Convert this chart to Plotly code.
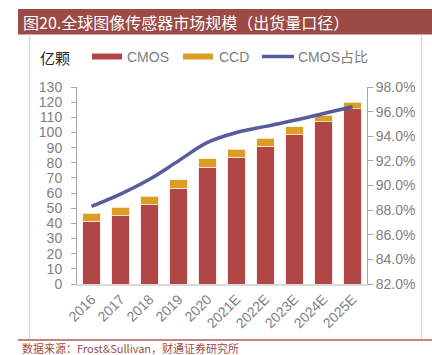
import plotly.graph_objects as go

years = ["2016", "2017", "2018", "2019", "2020", "2021E", "2022E", "2023E", "2024E", "2025E"]
cmos = [41.3, 45.1, 52.3, 63.2, 77.0, 83.6, 90.8, 98.6, 107.2, 115.7]
ccd = [5.5, 5.7, 5.7, 5.5, 5.5, 5.4, 5.3, 5.3, 4.3, 4.4]
cmos_share = [88.3, 89.3, 90.5, 92.0, 93.5, 94.3, 94.8, 95.3, 95.85, 96.4]

C_CMOS = "#B04645"
C_CCD = "#DB9E24"
C_LINE = "#565C9C"
GRAY = "#808080"

fig = go.Figure()
fig.add_trace(go.Bar(x=years, y=cmos, name="CMOS", marker=dict(color=C_CMOS, line=dict(color="rgba(255,230,230,0.8)", width=1))))
fig.add_trace(go.Bar(x=years, y=ccd, name="CCD", marker=dict(color=C_CCD, line=dict(color="rgba(255,240,220,0.8)", width=1))))
fig.add_trace(go.Scatter(x=years, y=cmos_share, name="CMOS占比", yaxis="y2", mode="lines",
                         line=dict(color=C_LINE, width=3.5, shape="spline")))

# plot area: x 77..367, y 87..284 (pixels)
L, R, T, B = 77, 367, 87, 284
W, H = R - L, B - T
def px(x): return (x - L) / W
def py(y): return (B - y) / H

shapes = [
    dict(type="rect", xref="paper", yref="paper", x0=px(18), x1=px(433), y0=py(34.5), y1=py(9),
         fillcolor="#9C4A46", line=dict(width=0), layer="below"),
    dict(type="line", xref="paper", yref="paper", x0=px(29.5), x1=px(29.5), y0=py(34.5), y1=py(340),
         line=dict(color="#D9D9D9", width=1.5)),
    dict(type="line", xref="paper", yref="paper", x0=px(421.5), x1=px(421.5), y0=py(34.5), y1=py(340),
         line=dict(color="#D9D9D9", width=1.5)),
    dict(type="line", xref="paper", yref="paper", x0=px(18), x1=px(433), y0=py(340), y1=py(340),
         line=dict(color="#B05A55", width=1.5)),
    dict(type="rect", xref="paper", yref="paper", x0=px(92), x1=px(122), y0=py(59.5), y1=py(53.5),
         fillcolor=C_CMOS, line=dict(width=0)),
    dict(type="rect", xref="paper", yref="paper", x0=px(183), x1=px(213), y0=py(59.5), y1=py(53.5),
         fillcolor=C_CCD, line=dict(width=0)),
    dict(type="line", xref="paper", yref="paper", x0=px(262), x1=px(294), y0=py(56.5), y1=py(56.5),
         line=dict(color=C_LINE, width=3.5)),
]

ann_font = dict(family="Liberation Sans, Noto Sans CJK SC", size=14, color=GRAY)
annotations = [
    dict(text="图20.全球图像传感器市场规模（出货量口径）", xref="paper", yref="paper", x=px(21), y=py(22),
         xanchor="left", yanchor="middle", showarrow=False,
         font=dict(family="Noto Sans CJK SC", size=16, color="white")),
    dict(text="亿颗", xref="paper", yref="paper", x=px(38), y=py(57), xanchor="left", yanchor="middle",
         showarrow=False, font=dict(family="Noto Sans CJK SC", size=15, color="#262626")),
    dict(text="CMOS", xref="paper", yref="paper", x=px(125), y=py(57), xanchor="left", yanchor="middle",
         showarrow=False, font=ann_font),
    dict(text="CCD", xref="paper", yref="paper", x=px(217), y=py(57), xanchor="left", yanchor="middle",
         showarrow=False, font=ann_font),
    dict(text="CMOS占比", xref="paper", yref="paper", x=px(296), y=py(57), xanchor="left", yanchor="middle",
         showarrow=False, font=ann_font),
    dict(text="数据来源：Frost&Sullivan，财通证券研究所", xref="paper", yref="paper", x=px(20), y=py(348),
         xanchor="left", yanchor="middle", showarrow=False,
         font=dict(family="Noto Sans CJK SC", size=11, color="#A04A46")),
]

fig.update_layout(
    width=432, height=355,
    margin=dict(l=L, r=432 - R, t=T, b=355 - B, pad=0),
    barmode="stack", bargap=0.4,
    showlegend=False,
    plot_bgcolor="white", paper_bgcolor="white",
    font=dict(family="Liberation Sans", size=13, color=GRAY),
    xaxis=dict(type="category", tickangle=-45, showgrid=False, showline=True, linecolor="#D9D9D9",
               linewidth=1.5, ticks="", tickfont=dict(size=14, color=GRAY)),
    yaxis=dict(range=[0, 130], dtick=10, showgrid=False, showline=True, linecolor="#A6A6A6",
               linewidth=1, ticks="outside", ticklen=5, tickcolor="#A6A6A6", tickfont=dict(size=14, color=GRAY),
               ticklabelstandoff=6, zeroline=False),
    yaxis2=dict(range=[82, 98], dtick=2, overlaying="y", side="right", showgrid=False, showline=True,
                linecolor="#A6A6A6", linewidth=1, ticks="outside", ticklen=5, tickcolor="#A6A6A6",
                tickformat=".1f", ticksuffix="%", tickfont=dict(size=14, color=GRAY), zeroline=False),
    shapes=shapes, annotations=annotations,
)

fig.write_html("out.html", config={"displayModeBar": False},
               post_script="document.body.style.margin='0';document.body.style.overflow='hidden';")
